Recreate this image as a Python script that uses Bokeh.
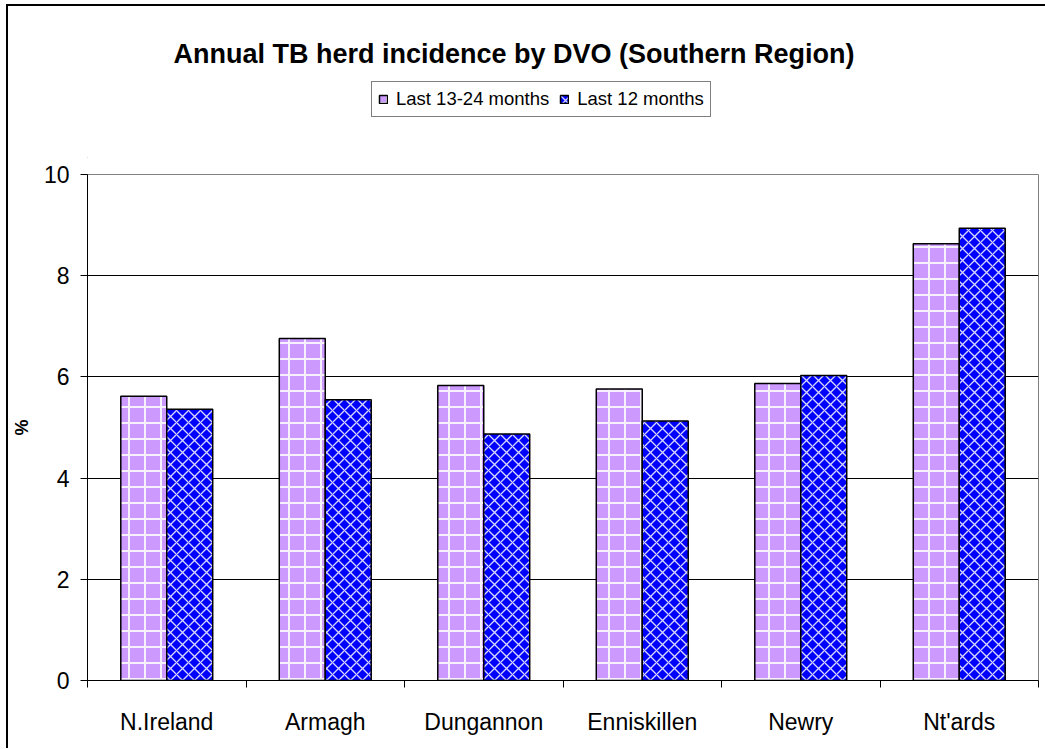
from bokeh.plotting import figure
from bokeh.layouts import column
from bokeh.models import (ColumnDataSource, Range1d, FixedTicker, Legend, LegendItem, Label)
from bokeh.transform import dodge
from bokeh.embed import file_html
from bokeh.resources import INLINE

# ---- data ----
categories = ["N.Ireland", "Armagh", "Dungannon", "Enniskillen", "Newry", "Nt'ards"]
last_13_24 = [5.62, 6.76, 5.83, 5.76, 5.87, 8.63]
last_12 = [5.36, 5.55, 4.87, 5.13, 6.03, 8.94]
y_ticks = [0, 2, 4, 6, 8, 10]
title_text = "Annual TB herd incidence by DVO (Southern Region)"
series_names = ["Last 13-24 months", "Last 12 months"]

FONT = "Liberation Sans"
W = 1037

STYLE_A = dict(fill_color="#CC99FF", line_color="black", line_width=1.5,
               hatch_pattern="cross", hatch_color="white", hatch_scale=16,
               hatch_weight=2, hatch_alpha=0.85)
STYLE_B = dict(fill_color="#0000FF", line_color="black", line_width=1.5,
               hatch_pattern="diagonal_cross", hatch_color="white", hatch_scale=12,
               hatch_weight=1.3, hatch_alpha=0.85)

pos = [i + 0.5 for i in range(len(categories))]
source = ColumnDataSource(dict(x=pos, cat=categories, a=last_13_24, b=last_12))

# ---------------- header (title + legend) ----------------
h = figure(width=W, height=152, output_backend="svg", toolbar_location=None,
           x_axis_location=None, y_axis_location=None,
           x_range=Range1d(0, 1), y_range=Range1d(0, 1),
           min_border=0, min_border_left=0, min_border_right=0,
           min_border_top=0, min_border_bottom=0)
h.outline_line_color = None
h.grid.visible = False

# legend proxies (kept outside the visible range, zero height)
d1 = h.vbar(x=[-1], top=[0], width=0.1, **STYLE_A)
d2 = h.vbar(x=[-1], top=[0], width=0.1, **STYLE_B)

title = Label(x=86, y=105, x_units="screen", y_units="screen", text=title_text,
              text_font=FONT, text_font_size="27px", text_font_style="bold",
              text_align="left", text_baseline="alphabetic", text_color="black")
h.add_layout(title)

legend = Legend(items=[LegendItem(label=series_names[0], renderers=[d1]),
                       LegendItem(label=series_names[1], renderers=[d2])],
                location=(284, 41), orientation="horizontal",
                glyph_width=10, glyph_height=10, label_height=16,
                padding=6, spacing=10, label_standoff=8, margin=0,
                label_text_font=FONT, label_text_font_size="18.5px",
                label_text_color="black",
                border_line_color="black", border_line_width=1.2,
                background_fill_color="white", background_fill_alpha=1)
h.add_layout(legend)

# ---------------- main chart ----------------
p = figure(width=W, height=590, output_backend="svg", toolbar_location=None,
           x_range=Range1d(0, len(categories)), y_range=Range1d(0, 10),
           min_border_left=76, min_border_right=7, min_border_top=16, min_border_bottom=68)

p.outline_line_color = "#808080"
p.outline_line_width = 1

BAR_W = 0.29
p.vbar(x=dodge("x", -0.145, range=p.x_range), top="a", width=BAR_W, source=source, **STYLE_A)
p.vbar(x=dodge("x", 0.145, range=p.x_range), top="b", width=BAR_W, source=source, **STYLE_B)

xa = p.xaxis[0]
xa.ticker = FixedTicker(ticks=pos, minor_ticks=list(range(len(categories) + 1)))
xa.major_label_overrides = {v: c for v, c in zip(pos, categories)}
xa.major_tick_out = 0
xa.major_tick_in = 0
xa.minor_tick_out = 7
xa.minor_tick_in = 0
xa.minor_tick_line_color = "black"
xa.axis_line_color = "black"
xa.major_label_standoff = 21
xa.major_label_text_font = FONT
xa.major_label_text_font_size = "23px"
xa.major_label_text_color = "black"

ya = p.yaxis[0]
ya.ticker = FixedTicker(ticks=y_ticks)
ya.major_tick_out = 7
ya.major_tick_in = 0
ya.minor_tick_line_color = None
ya.axis_line_color = "black"
ya.major_tick_line_color = "black"
ya.major_label_standoff = 11
ya.major_label_text_font = FONT
ya.major_label_text_font_size = "23px"
ya.major_label_text_color = "black"
ya.axis_label = "%"
ya.axis_label_text_font = FONT
ya.axis_label_text_font_size = "18px"
ya.axis_label_text_font_style = "bold"
ya.axis_label_text_color = "black"
ya.axis_label_standoff = 9

p.xgrid.grid_line_color = None
p.ygrid.grid_line_color = "black"
p.ygrid.grid_line_width = 1

layout = column(h, p, spacing=0,
                styles={"margin-left": "6px", "margin-top": "4px",
                        "border-left": "2px solid black", "border-top": "2px solid black"})

open("out.html", "w").write(file_html(layout, INLINE))
